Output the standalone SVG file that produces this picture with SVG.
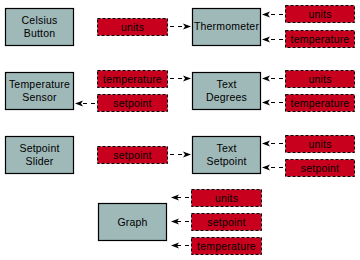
<svg xmlns="http://www.w3.org/2000/svg" width="360" height="260" viewBox="0 0 360 260">
<defs>
<style>
.node{fill:#9fb8b8;stroke:#000;stroke-width:1.2}
.data{fill:#c8001e;stroke:#000;stroke-width:1;stroke-dasharray:3 2}
.t{font-family:"Liberation Sans",Arial,sans-serif;font-size:10.5px;letter-spacing:0.2px;fill:#000;text-anchor:middle}
.c{stroke:#000;stroke-width:1;stroke-dasharray:4 4;fill:none}
</style>
<marker id="ah" viewBox="0 0 8 8" refX="7" refY="4" markerWidth="8" markerHeight="8" markerUnits="userSpaceOnUse" orient="auto">
<path d="M0,1 L8,4 L0,7 L2,4 Z" fill="#000"/>
</marker>
</defs>
<rect width="360" height="260" fill="#fff"/>
<g id="celsius-button"><rect class="node" x="5.5" y="8.5" width="68" height="37"/><text class="t" x="39.5" y="24">Celsius</text><text class="t" x="39.5" y="37">Button</text></g>
<g id="temperature-sensor"><rect class="node" x="5.5" y="72.5" width="68" height="37"/><text class="t" x="39.5" y="88">Temperature</text><text class="t" x="39.5" y="101">Sensor</text></g>
<g id="setpoint-slider"><rect class="node" x="5.5" y="136.5" width="68" height="37"/><text class="t" x="39.5" y="152">Setpoint</text><text class="t" x="39.5" y="165">Slider</text></g>
<g id="thermometer"><rect class="node" x="192.5" y="8.5" width="68" height="37"/><text class="t" x="226.5" y="30">Thermometer</text></g>
<g id="text-degrees"><rect class="node" x="192.5" y="72.5" width="68" height="37"/><text class="t" x="226.5" y="88">Text</text><text class="t" x="226.5" y="101">Degrees</text></g>
<g id="text-setpoint"><rect class="node" x="192.5" y="136.5" width="68" height="37"/><text class="t" x="226.5" y="152">Text</text><text class="t" x="226.5" y="165">Setpoint</text></g>
<g id="graph"><rect class="node" x="98.5" y="203.5" width="68" height="37"/><text class="t" x="132.5" y="226">Graph</text></g>
<g id="d-units-1"><rect class="data" x="97.5" y="18.5" width="70" height="17"/><text class="t" x="132.5" y="30.5">units</text></g>
<g id="d-temperature-1"><rect class="data" x="97.5" y="70.5" width="70" height="17"/><text class="t" x="132.5" y="82.5">temperature</text></g>
<g id="d-setpoint-1"><rect class="data" x="97.5" y="94.5" width="70" height="17"/><text class="t" x="132.5" y="106.5">setpoint</text></g>
<g id="d-setpoint-2"><rect class="data" x="97.5" y="146.5" width="70" height="17"/><text class="t" x="132.5" y="158.5">setpoint</text></g>
<g id="d-units-2"><rect class="data" x="285.5" y="5.5" width="69" height="17"/><text class="t" x="320" y="17.5">units</text></g>
<g id="d-temperature-2"><rect class="data" x="285.5" y="30.5" width="69" height="17"/><text class="t" x="320" y="42.5">temperature</text></g>
<g id="d-units-3"><rect class="data" x="285.5" y="70.5" width="69" height="17"/><text class="t" x="320" y="82.5">units</text></g>
<g id="d-temperature-3"><rect class="data" x="285.5" y="94.5" width="69" height="17"/><text class="t" x="320" y="106.5">temperature</text></g>
<g id="d-units-4"><rect class="data" x="285.5" y="135.5" width="69" height="17"/><text class="t" x="320" y="147.5">units</text></g>
<g id="d-setpoint-3"><rect class="data" x="285.5" y="159.5" width="69" height="17"/><text class="t" x="320" y="171.5">setpoint</text></g>
<g id="d-units-5"><rect class="data" x="191.5" y="189.5" width="70" height="17"/><text class="t" x="226.5" y="201.5">units</text></g>
<g id="d-setpoint-4"><rect class="data" x="191.5" y="213.5" width="70" height="17"/><text class="t" x="226.5" y="225.5">setpoint</text></g>
<g id="d-temperature-4"><rect class="data" x="191.5" y="237.5" width="70" height="17"/><text class="t" x="226.5" y="249.5">temperature</text></g>
<g id="connectors">
<line class="c" x1="170" y1="26.5" x2="190" y2="26.5" marker-end="url(#ah)"/>
<line class="c" x1="170" y1="78.5" x2="190" y2="78.5" marker-end="url(#ah)"/>
<line class="c" x1="170" y1="154.5" x2="190" y2="154.5" marker-end="url(#ah)"/>
<line class="c" x1="95" y1="103.5" x2="76" y2="103.5" marker-end="url(#ah)"/>
<line class="c" x1="283" y1="14.5" x2="263" y2="14.5" marker-end="url(#ah)"/>
<line class="c" x1="283" y1="39.5" x2="263" y2="39.5" marker-end="url(#ah)"/>
<line class="c" x1="283" y1="78.5" x2="263" y2="78.5" marker-end="url(#ah)"/>
<line class="c" x1="283" y1="102.5" x2="263" y2="102.5" marker-end="url(#ah)"/>
<line class="c" x1="283" y1="143.5" x2="263" y2="143.5" marker-end="url(#ah)"/>
<line class="c" x1="283" y1="167.5" x2="263" y2="167.5" marker-end="url(#ah)"/>
<line class="c" x1="189" y1="197.5" x2="172" y2="197.5" marker-end="url(#ah)"/>
<line class="c" x1="189" y1="221.5" x2="172" y2="221.5" marker-end="url(#ah)"/>
<line class="c" x1="189" y1="245.5" x2="172" y2="245.5" marker-end="url(#ah)"/>
</g>
</svg>
